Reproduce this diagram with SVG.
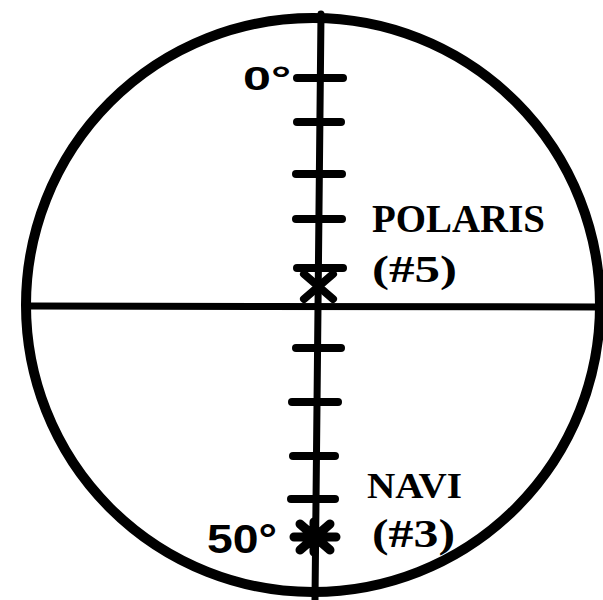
<svg xmlns="http://www.w3.org/2000/svg" width="603" height="600" viewBox="0 0 603 600">
<style>
.ln{stroke:#000;fill:none;stroke-linecap:round}
.tick{stroke:#000;stroke-width:8;stroke-linecap:round}
.lbl{font-family:"Liberation Serif",serif;font-weight:bold;fill:#000}
.deg{font-family:"Liberation Sans",sans-serif;font-weight:bold;fill:#000}
</style>
<rect width="603" height="600" fill="#fff"/>
<g id="scope">
<circle cx="313" cy="305" r="287" class="ln" stroke-width="10"/>
</g>
<g id="connectors">
<line x1="321" y1="14" x2="315" y2="600" class="ln" stroke-width="7" stroke-linecap="butt"/>
<line x1="30" y1="306" x2="603" y2="307" class="ln" stroke-width="7" stroke-linecap="butt"/>
</g>
<g id="ticks">
<line x1="297" y1="78" x2="343" y2="78" class="tick"/>
<line x1="297" y1="122" x2="341" y2="122" class="tick"/>
<line x1="296" y1="174" x2="342" y2="174" class="tick"/>
<line x1="296" y1="219" x2="342" y2="219" class="tick"/>
<line x1="296" y1="348" x2="341" y2="348" class="tick"/>
<line x1="292" y1="402" x2="338" y2="402" class="tick"/>
<line x1="293" y1="456" x2="335" y2="456" class="tick"/>
<line x1="291" y1="499" x2="335" y2="499" class="tick"/>
</g>
<g id="polaris">
<line x1="297" y1="268" x2="343" y2="268" class="tick"/>
<path d="M304 274 L333 299 M333 274 L304 299" class="ln" stroke-width="8"/>
<text class="lbl" x="372" y="232" font-size="40" textLength="173" lengthAdjust="spacingAndGlyphs">POLARIS</text>
<text class="lbl" x="372" y="282" font-size="38" textLength="85" lengthAdjust="spacingAndGlyphs">(#5)</text>
</g>
<g id="navi">
<path d="M294 537 L336 537 M314 522 L314 552 M300 524 L330 550 M330 524 L300 550" class="ln" stroke-width="9"/>
<circle cx="314" cy="537" r="11" fill="#000"/>
<text class="lbl" x="367" y="498" font-size="36" textLength="95" lengthAdjust="spacingAndGlyphs">NAVI</text>
<text class="lbl" x="372" y="547" font-size="40" textLength="83" lengthAdjust="spacingAndGlyphs">(#3)</text>
</g>
<g id="degrees">
<text class="deg" x="243" y="90" font-size="34" textLength="48" lengthAdjust="spacingAndGlyphs">0°</text>
<text class="deg" x="207" y="553" font-size="41" textLength="70" lengthAdjust="spacingAndGlyphs">50°</text>
</g>
</svg>
